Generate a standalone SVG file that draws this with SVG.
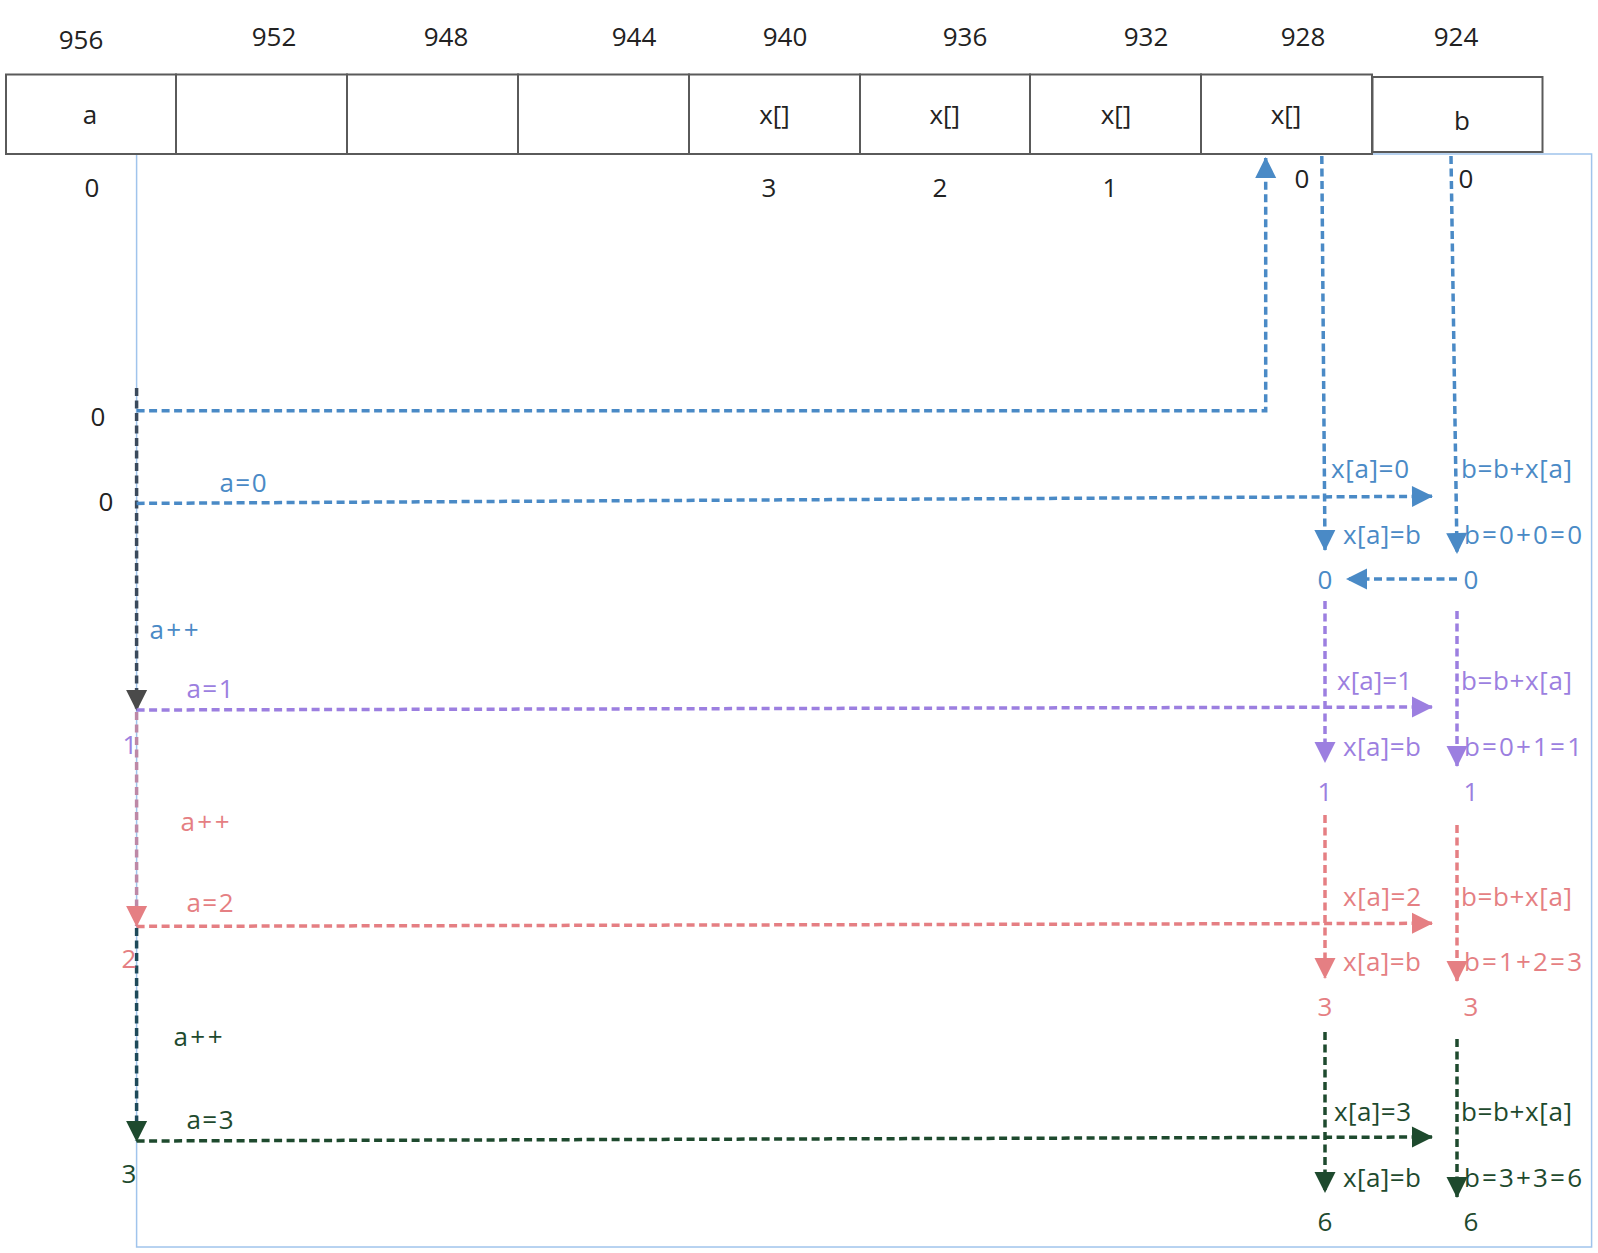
<svg xmlns="http://www.w3.org/2000/svg" width="1598" height="1253" viewBox="0 0 1598 1253">
<style>
text{font-family:"Open Sans","Noto Sans","DejaVu Sans",sans-serif;font-size:26px;dominant-baseline:central}
.k{fill:#222}
.m{text-anchor:middle}
.box{fill:#fff;stroke:#5a5a5a;stroke-width:2}
.ln{fill:none;stroke-width:3.5;stroke-dasharray:8 4.5}
.blue{fill:#4a8ac6}.pur{fill:#9c7fe0}.pink{fill:#e57f83}.grn{fill:#1e4a2e}
</style>
<defs>
<marker id="mb" markerUnits="userSpaceOnUse" markerWidth="26" markerHeight="26" viewBox="-2 -13 26 26" refX="20" refY="0" orient="auto"><path d="M0,-10.5 L21,0 L0,10.5 z" fill="#4a8ac6"/></marker>
<marker id="mp" markerUnits="userSpaceOnUse" markerWidth="26" markerHeight="26" viewBox="-2 -13 26 26" refX="20" refY="0" orient="auto"><path d="M0,-10.5 L21,0 L0,10.5 z" fill="#9c7fe0"/></marker>
<marker id="mk" markerUnits="userSpaceOnUse" markerWidth="26" markerHeight="26" viewBox="-2 -13 26 26" refX="20" refY="0" orient="auto"><path d="M0,-10.5 L21,0 L0,10.5 z" fill="#e57f83"/></marker>
<marker id="mg" markerUnits="userSpaceOnUse" markerWidth="26" markerHeight="26" viewBox="-2 -13 26 26" refX="20" refY="0" orient="auto"><path d="M0,-10.5 L21,0 L0,10.5 z" fill="#1e4a2e"/></marker>
<marker id="md" markerUnits="userSpaceOnUse" markerWidth="26" markerHeight="26" viewBox="-2 -13 26 26" refX="20" refY="0" orient="auto"><path d="M0,-10.5 L21,0 L0,10.5 z" fill="#4a4a4a"/></marker>
</defs>
<rect width="1598" height="1253" fill="#fff"/>

<g id="frame"><rect x="136.6" y="154" width="1455" height="1093" fill="none" stroke="#a0c4ec" stroke-width="1.5"/></g>

<g id="addr-labels" class="k">
<text class="m k" x="81" y="39">956</text>
<text class="m k" x="274" y="36">952</text>
<text class="m k" x="446" y="36">948</text>
<text class="m k" x="634" y="36">944</text>
<text class="m k" x="785" y="36">940</text>
<text class="m k" x="965" y="36">936</text>
<text class="m k" x="1146" y="36">932</text>
<text class="m k" x="1303" y="36">928</text>
<text class="m k" x="1456" y="36">924</text>
</g>

<g id="cell-a"><rect class="box" x="6" y="74.5" width="170" height="79.5"/><text class="m k" x="90" y="114">a</text></g>
<g id="cell-952"><rect class="box" x="176" y="74.5" width="171" height="79.5"/></g>
<g id="cell-948"><rect class="box" x="347" y="74.5" width="171" height="79.5"/></g>
<g id="cell-944"><rect class="box" x="518" y="74.5" width="171" height="79.5"/></g>
<g id="cell-x3"><rect class="box" x="689" y="74.5" width="171" height="79.5"/><text class="m k" x="774.5" y="114">x[]</text></g>
<g id="cell-x2"><rect class="box" x="860" y="74.5" width="170" height="79.5"/><text class="m k" x="944.7" y="114">x[]</text></g>
<g id="cell-x1"><rect class="box" x="1030" y="74.5" width="171" height="79.5"/><text class="m k" x="1116" y="114">x[]</text></g>
<g id="cell-x0"><rect class="box" x="1201" y="74.5" width="171" height="79.5"/><text class="m k" x="1286" y="114">x[]</text></g>
<g id="cell-b"><rect class="box" x="1372.5" y="77" width="170" height="75"/><text class="m k" x="1462" y="120">b</text></g>

<g id="index-labels">
<text class="m k" x="92" y="187">0</text>
<text class="m k" x="769" y="187">3</text>
<text class="m k" x="940" y="187">2</text>
<text class="m k" x="1110" y="187">1</text>
<text class="m k" x="1302" y="178">0</text>
<text class="m k" x="1466" y="178">0</text>
<text class="m k" x="98" y="416">0</text>
<text class="m k" x="106" y="501">0</text>
</g>

<g id="connectors">
<path class="ln" stroke="#4a8ac6" d="M136.6,410.7 H1265.7 V158" marker-end="url(#mb)"/>
<path class="ln" stroke="#3b4a5c" d="M136.6,388 V710" marker-end="url(#md)"/>
<path class="ln" stroke="#4a8ac6" d="M136.6,503.4 L1432,496.3" marker-end="url(#mb)"/>
<path class="ln" stroke="#4a8ac6" d="M1321.8,156 L1325,550" marker-end="url(#mb)"/>
<path class="ln" stroke="#4a8ac6" d="M1451,156 L1457,553" marker-end="url(#mb)"/>
<path class="ln" stroke="#4a8ac6" d="M1457,579 H1347" marker-end="url(#mb)"/>

<path class="ln" stroke="#9c7fe0" d="M136.6,710 L1432,707" marker-end="url(#mp)"/>
<path class="ln" stroke="#9c7fe0" d="M1325,601 V762" marker-end="url(#mp)"/>
<path class="ln" stroke="#9c7fe0" d="M1457,611 V766" marker-end="url(#mp)"/>

<path class="ln" stroke="#bd88a6" d="M136.6,712 V926" marker-end="url(#mk)"/>
<path class="ln" stroke="#e57f83" d="M136.6,926.4 L1432,923.3" marker-end="url(#mk)"/>
<path class="ln" stroke="#e57f83" d="M1325,815 V978" marker-end="url(#mk)"/>
<path class="ln" stroke="#e57f83" d="M1457,825 V981" marker-end="url(#mk)"/>

<path class="ln" stroke="#1e4a5a" d="M136.6,928 V1141" marker-end="url(#mg)"/>
<path class="ln" stroke="#1e4a2e" d="M136.6,1141 L1432,1137" marker-end="url(#mg)"/>
<path class="ln" stroke="#1e4a2e" d="M1325,1032 V1192" marker-end="url(#mg)"/>
<path class="ln" stroke="#1e4a2e" d="M1457,1039 V1197" marker-end="url(#mg)"/>
</g>

<g id="step0">
<text class="m blue" x="243" y="482" textLength="47">a=0</text>
<text class="m blue" x="174" y="629" textLength="49">a++</text>
<text class="blue" x="1331" y="468" textLength="78">x[a]=0</text>
<text class="blue" x="1461" y="468" textLength="111">b=b+x[a]</text>
<text class="blue" x="1343" y="534" textLength="78">x[a]=b</text>
<text class="blue" x="1464" y="534" textLength="118">b=0+0=0</text>
<text class="m blue" x="1325" y="579">0</text>
<text class="m blue" x="1471" y="579">0</text>
</g>
<g id="step1">
<text class="m pur" x="210" y="688" textLength="47">a=1</text>
<text class="m pur" x="130" y="744">1</text>
<text class="pur" x="1337" y="680" textLength="75">x[a]=1</text>
<text class="pur" x="1461" y="680" textLength="111">b=b+x[a]</text>
<text class="pur" x="1343" y="746" textLength="78">x[a]=b</text>
<text class="pur" x="1464" y="746" textLength="118">b=0+1=1</text>
<text class="m pur" x="1325" y="791">1</text>
<text class="m pur" x="1471" y="791">1</text>
</g>
<g id="step2">
<text class="m pink" x="205" y="821" textLength="49">a++</text>
<text class="m pink" x="210" y="902" textLength="47">a=2</text>
<text class="m pink" x="129" y="958">2</text>
<text class="pink" x="1343" y="896" textLength="78">x[a]=2</text>
<text class="pink" x="1461" y="896" textLength="111">b=b+x[a]</text>
<text class="pink" x="1343" y="961" textLength="78">x[a]=b</text>
<text class="pink" x="1464" y="961" textLength="118">b=1+2=3</text>
<text class="m pink" x="1325" y="1006">3</text>
<text class="m pink" x="1471" y="1006">3</text>
</g>
<g id="step3">
<text class="m grn" x="198" y="1036" textLength="49">a++</text>
<text class="m grn" x="210" y="1119" textLength="47">a=3</text>
<text class="m grn" x="129" y="1173">3</text>
<text class="grn" x="1334" y="1111" textLength="77">x[a]=3</text>
<text class="grn" x="1461" y="1111" textLength="111">b=b+x[a]</text>
<text class="grn" x="1343" y="1177" textLength="78">x[a]=b</text>
<text class="grn" x="1464" y="1177" textLength="118">b=3+3=6</text>
<text class="m grn" x="1325" y="1221">6</text>
<text class="m grn" x="1471" y="1221">6</text>
</g>
</svg>
